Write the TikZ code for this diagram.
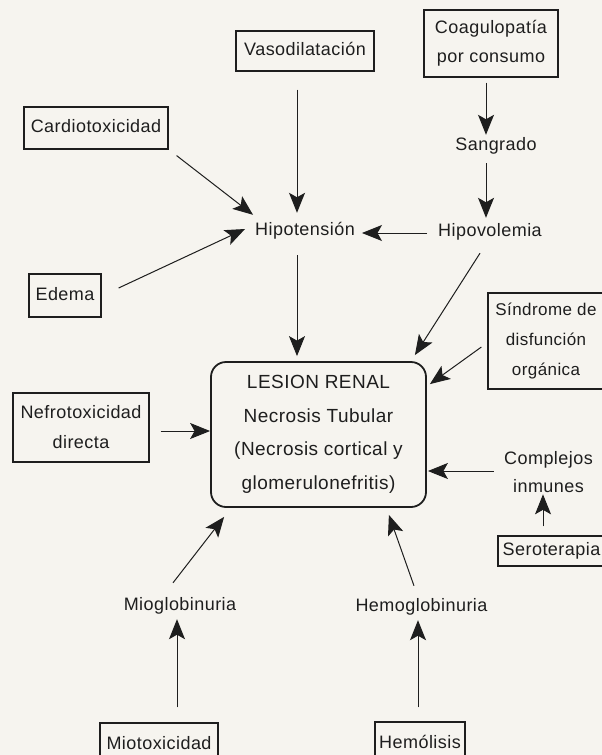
\documentclass[tikz,border=0pt]{standalone}
\usepackage{fontspec}
\setmainfont{Liberation Sans}[LetterSpace=2.5]
\usetikzlibrary{arrows.meta}
\definecolor{paper}{RGB}{246,244,239}
\definecolor{ink}{RGB}{30,30,30}
\tikzset{
  every node/.style={font=\fontsize{18}{29}\selectfont, align=center, inner sep=0pt, text=ink},
  one/.style={text height=13pt, text depth=4pt},
  sqbox/.style={draw=ink, line width=1.2pt},
  mainbox/.style={draw=ink, line width=1.8pt, rounded corners=15pt},
  arr/.style={draw=ink, line width=1pt, -{Stealth[length=20pt,width=16pt,inset=4.5pt]}},
}
\begin{document}
\begin{tikzpicture}[x=1pt,y=-1pt]
\useasboundingbox (0,0) rectangle (602,755);
\fill[paper] (0,0) rectangle (602,755);
\clip (0,0) rectangle (602,755);
% boxes and labels
\node[sqbox, one, minimum width=138pt, minimum height=40pt] (vaso) at (305,51) {Vasodilatación};
\node[sqbox, minimum width=134pt, minimum height=67pt] (coag) at (491,43.5) {Coagulopatía\\por consumo};
\node[sqbox, one, minimum width=144pt, minimum height=42pt] (card) at (96,128) {Cardiotoxicidad};
\node[one] (sang) at (496,145.5) {Sangrado};
\node[one] (hipot) at (305,230.5) {Hipotensión};
\node[one] (hipov) at (490,231.5) {Hipovolemia};
\node[sqbox, one, minimum width=72pt, minimum height=43pt] (edema) at (65,295.5) {Edema};
\node[sqbox, minimum width=116pt, minimum height=96pt, font=\fontsize{17}{30}\selectfont] (sind) at (546,341) {Síndrome de\\disfunción\\orgánica};
\node[mainbox, minimum width=215pt, minimum height=145pt, font=\fontsize{19}{33.5}\selectfont] (les) at (318.5,434.5) {LESION RENAL\\Necrosis Tubular\\(Necrosis cortical y\\glomerulonefritis)};
\node[sqbox, minimum width=136pt, minimum height=69pt, font=\fontsize{18}{30}\selectfont] (nefro) at (81,427.5) {Nefrotoxicidad\\directa};
\node[font=\fontsize{18}{28}\selectfont] (compl) at (548.5,472.5) {Complejos\\inmunes};
\node[sqbox, one, minimum width=107pt, minimum height=30pt] (sero) at (551.5,551) {Seroterapia};
\node[one] (miog) at (180,605.5) {Mioglobinuria};
\node[one] (hemog) at (421.5,606.5) {Hemoglobinuria};
\node[sqbox, one, minimum width=118pt, minimum height=44pt] (miot) at (159,745) {Miotoxicidad};
\node[sqbox, one, minimum width=90pt, minimum height=44pt] (hemol) at (420,744) {Hemólisis};
% connectors
\draw[arr] ([shift={(-8,18)}]vaso.south) -- ([shift={(-8,-9)}]hipot.north);
\draw[arr] ([shift={(-5,5)}]coag.south) -- ([shift={(-10,-2)}]sang.north);
\draw[arr] ([shift={(-10,9)}]sang.south) -- ([shift={(-4,-5)}]hipov.north);
\draw[arr] ([shift={(8,6)}]card.south east) -- ([shift={(-2,-7)}]hipot.north west);
\draw[arr] ([shift={(17,-7.5)}]edema.east) -- ([shift={(-10,-1.5)}]hipot.west);
\draw[arr] ([shift={(-11,1.5)}]hipov.west) -- ([shift={(7,2.5)}]hipot.east);
\draw[arr] ([shift={(-8,16)}]hipot.south) -- ([shift={(-21.5,-5)}]les.north);
\draw[arr] ([shift={(-10,13)}]hipov.south) -- ([shift={(-12,-6)}]les.north east);
\draw[arr] ([shift={(-6,6)}]sind.west) -- ([shift={(3,23)}]les.north east);
\draw[arr] ([shift={(11,3.5)}]nefro.east) -- ([shift={(0,-3.5)}]les.west);
\draw[arr] ([shift={(-10,-1.5)}]compl.west) -- ([shift={(1,36.5)}]les.east);
\draw[arr] ([shift={(-8.5,-9)}]sero.north) -- ([shift={(-5.5,1)}]compl.south);
\draw[arr] ([shift={(-7,-14)}]miog.north) -- ([shift={(14,9)}]les.south west);
\draw[arr] ([shift={(-7.5,-12)}]hemog.north) -- ([shift={(-38,7)}]les.south east);
\draw[arr] ([shift={(18,-15)}]miot.north) -- ([shift={(-3,5)}]miog.south);
\draw[arr] ([shift={(-2,-14)}]hemol.north) -- ([shift={(-3.5,5)}]hemog.south);
\end{tikzpicture}
\end{document}
